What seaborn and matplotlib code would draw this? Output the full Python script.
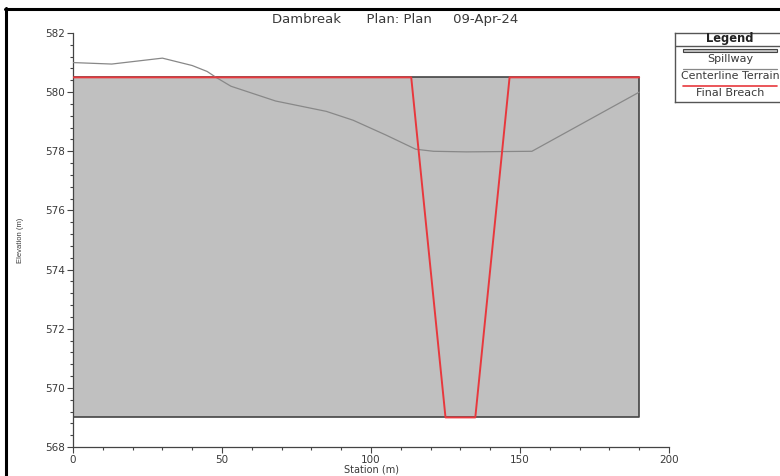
import matplotlib
matplotlib.use("Agg")
import matplotlib.pyplot as plt
from matplotlib.lines import Line2D
from matplotlib.ticker import MultipleLocator
import numpy as np
import pandas as pd
import seaborn as sns

# spillway block
spill_station = [0, 190]
spill_bottom = 569.0
spill_top = 580.5

# centerline terrain
terrain_station = [0, 13, 30, 40, 45, 48, 53, 68, 85, 94, 105, 115, 121, 132, 154, 190]
terrain_elev = [581.0, 580.95, 581.15, 580.9, 580.7, 580.5, 580.2, 579.7, 579.35,
                579.05, 578.55, 578.07, 578.0, 577.98, 578.0, 580.0]

# final breach outline
breach_station = [0, 113.5, 125, 135, 146.5, 190]
breach_elev = [580.5, 580.5, 569.0, 569.0, 580.5, 580.5]

title = "Dambreak      Plan: Plan     09-Apr-24"

sns.set_style("white")
plt.rcParams['font.family'] = ['DejaVu Sans']

fig = plt.figure(figsize=(7.8, 4.76), dpi=100)
ax = fig.add_axes([73 / 780, 1 - 447 / 476, 596 / 780, 414 / 476])

gray = "#c0c0c0"
red = "#e8383d"
txt = "#3a3a3a"

ax.fill_between(spill_station, spill_bottom, spill_top, color=gray, lw=0, zorder=1)
ax.plot([spill_station[0], spill_station[1], spill_station[1], spill_station[0], spill_station[0]],
        [spill_top, spill_top, spill_bottom, spill_bottom, spill_top],
        color="#444444", lw=1.2, zorder=2)

terrain = pd.DataFrame({"station": terrain_station, "elev": terrain_elev})
sns.lineplot(data=terrain, x="station", y="elev", color="#888888", lw=0.9,
             sort=False, ax=ax, zorder=3)

breach = pd.DataFrame({"station": breach_station, "elev": breach_elev})
sns.lineplot(data=breach, x="station", y="elev", color=red, lw=1.4,
             sort=False, ax=ax, zorder=4)

ax.set_xlim(0, 200)
ax.set_ylim(568, 582)
ax.xaxis.set_major_locator(MultipleLocator(50))
ax.xaxis.set_minor_locator(MultipleLocator(10))
ax.yaxis.set_major_locator(MultipleLocator(2))
ax.yaxis.set_minor_locator(MultipleLocator(0.4))
ax.tick_params(which="major", direction="out", length=4, width=0.8, color="#444444",
               labelsize=7.5, labelcolor=txt, left=True, bottom=True, pad=1.5)
ax.tick_params(which="minor", direction="out", length=2.5, width=0.8, color="#444444",
               left=True, bottom=True)
for side in ["top", "right"]:
    ax.spines[side].set_visible(False)
for side in ["left", "bottom"]:
    ax.spines[side].set_color("#444444")
    ax.spines[side].set_linewidth(0.9)

ax.set_xlabel("Station (m)", fontsize=7, color=txt)
ax.set_ylabel("Elevation (m)", fontsize=5.5, color=txt, family="Liberation Sans")
ax.xaxis.set_label_coords(0.5, -0.043)
ax.yaxis.set_label_coords(-0.083, 0.5)
fig.text(395 / 780, 1 - 19 / 476, title, ha="center", va="center", fontsize=9.5,
         color=txt)

# legend box, clipped at the right edge like the original
lax = fig.add_axes([675 / 780, 1 - 102 / 476, 110 / 780, 69 / 476])
lax.set_xlim(0, 1)
lax.set_ylim(0, 1)
lax.set_xticks([])
lax.set_yticks([])
for s in lax.spines.values():
    s.set_color("#555555")
    s.set_linewidth(1.0)
lax.text(0.5, 0.925, "Legend", ha="center", va="center", fontsize=8.3,
         fontweight="bold", color="#222222")
lax.plot([0, 1], [0.815, 0.815], color="#555555", lw=1.0)
lax.add_patch(plt.Rectangle((0.07, 0.725), 0.86, 0.05, facecolor=gray,
                            edgecolor="#444444", lw=0.8))
lax.text(0.5, 0.62, "Spillway", ha="center", va="center", fontsize=8, color=txt)
lax.plot([0.07, 0.93], [0.475, 0.475], color="#888888", lw=0.9)
lax.text(0.5, 0.375, "Centerline Terrain", ha="center", va="center", fontsize=7.9,
         color=txt)
lax.plot([0.07, 0.93], [0.235, 0.235], color=red, lw=1.2)
lax.text(0.5, 0.125, "Final Breach", ha="center", va="center", fontsize=8,
         color=txt)

# outer frame lines (top and left)
fig.add_artist(Line2D([5 / 780, 1.0], [1 - 9 / 476, 1 - 9 / 476], color="black", lw=2.2))
fig.add_artist(Line2D([6 / 780, 6 / 780], [0, 1 - 8 / 476], color="black", lw=2.2))

fig.savefig("out.png", dpi=100)
